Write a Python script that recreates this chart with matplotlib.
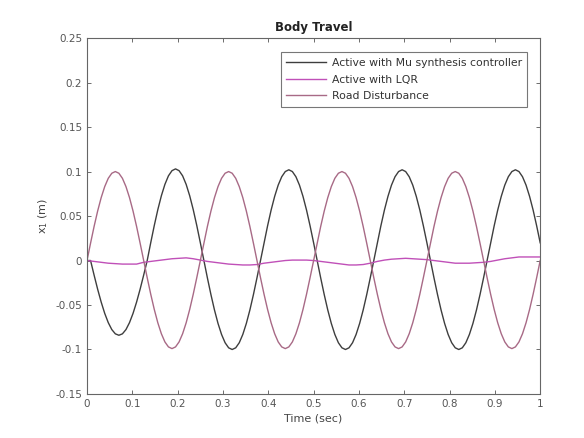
import matplotlib
matplotlib.use("Agg")
import matplotlib.pyplot as plt
import numpy as np

# time samples (sec)
time = np.arange(129) / 128.0
time_lqr = np.arange(65) / 64.0

mu_synthesis = [
    0.0, 0.0,
    -.0164, -.0322, -.0467, -.0594, -.0698, -.0776, -.0824, -.0840,
    -.0824, -.0776, -.0698, -.0594, -.0467, -.0322, -.0164,
    0.0,
    .0201, .0394, .0572, .0728, .0856, .0952, .1010, .1030,
    .1010, .0952, .0856, .0728, .0572, .0394, .0201,
    0.0,
    -.0195, -.0383, -.0556, -.0707, -.0831, -.0924, -.0981, -.1000,
    -.0981, -.0924, -.0831, -.0707, -.0556, -.0383, -.0195,
    0.0,
    .0199, .0390, .0567, .0721, .0848, .0942, .1000, .1020,
    .1000, .0942, .0848, .0721, .0567, .0390, .0199,
    0.0,
    -.0195, -.0383, -.0556, -.0707, -.0831, -.0924, -.0981, -.1000,
    -.0981, -.0924, -.0831, -.0707, -.0556, -.0383, -.0195,
    0.0,
    .0199, .0390, .0567, .0721, .0848, .0942, .1000, .1020,
    .1000, .0942, .0848, .0721, .0567, .0390, .0199,
    0.0,
    -.0195, -.0383, -.0556, -.0707, -.0831, -.0924, -.0981, -.1000,
    -.0981, -.0924, -.0831, -.0707, -.0556, -.0383, -.0195,
    0.0,
    .0199, .0390, .0567, .0721, .0848, .0942, .1000, .1020,
    .1000, .0942, .0848, .0721, .0567, .0390, .0199,
]

lqr = [
    0.000, -0.001, -0.002, -0.003, -0.0035, -0.004, -0.004, -0.004,
    -0.002, -0.001, 0.000, 0.001, 0.002, 0.0025, 0.003, 0.002,
    0.0005, -0.001, -0.002, -0.003, -0.004, -0.0045, -0.005, -0.005,
    -0.0045, -0.003, -0.002, -0.001, 0.000, 0.0005, 0.0005, 0.0005,
    0.000, -0.001, -0.002, -0.003, -0.004, -0.005, -0.005, -0.0045,
    -0.003, -0.001, 0.0005, 0.0015, 0.002, 0.0025, 0.002, 0.0015,
    0.001, 0.000, -0.001, -0.002, -0.003, -0.003, -0.003, -0.0025,
    -0.002, -0.001, 0.0005, 0.002, 0.003, 0.004, 0.004, 0.004,
    0.004,
]

road = [
    0.0, .0195, .0383, .0556, .0707, .0831, .0924, .0981, .1000,
    .0981, .0924, .0831, .0707, .0556, .0383, .0195,
    0.0, -.0193, -.0379, -.0550, -.0700, -.0823, -.0915, -.0971, -.0990,
    -.0971, -.0915, -.0823, -.0700, -.0550, -.0379, -.0193,
    0.0, .0195, .0383, .0556, .0707, .0831, .0924, .0981, .1000,
    .0981, .0924, .0831, .0707, .0556, .0383, .0195,
    0.0, -.0193, -.0379, -.0550, -.0700, -.0823, -.0915, -.0971, -.0990,
    -.0971, -.0915, -.0823, -.0700, -.0550, -.0379, -.0193,
    0.0, .0195, .0383, .0556, .0707, .0831, .0924, .0981, .1000,
    .0981, .0924, .0831, .0707, .0556, .0383, .0195,
    0.0, -.0193, -.0379, -.0550, -.0700, -.0823, -.0915, -.0971, -.0990,
    -.0971, -.0915, -.0823, -.0700, -.0550, -.0379, -.0193,
    0.0, .0195, .0383, .0556, .0707, .0831, .0924, .0981, .1000,
    .0981, .0924, .0831, .0707, .0556, .0383, .0195,
    0.0, -.0193, -.0379, -.0550, -.0700, -.0823, -.0915, -.0971, -.0990,
    -.0971, -.0915, -.0823, -.0700, -.0550, -.0379, -.0193,
    0.0,
]

labels = ["Active with Mu synthesis controller", "Active with LQR", "Road Disturbance"]
xticks = [0, 0.1, 0.2, 0.3, 0.4, 0.5, 0.6, 0.7, 0.8, 0.9, 1]
xticklabels = ["0", "0.1", "0.2", "0.3", "0.4", "0.5", "0.6", "0.7", "0.8", "0.9", "1"]
yticks = [-0.15, -0.1, -0.05, 0, 0.05, 0.1, 0.15, 0.2, 0.25]
yticklabels = ["-0.15", "-0.1", "-0.05", "0", "0.05", "0.1", "0.15", "0.2", "0.25"]

fig = plt.figure(figsize=(5.84, 4.38), dpi=100)
ax = fig.add_axes([0.149, 0.1005, 0.776, 0.8125])

ax.plot(time, mu_synthesis, color="#3e3e3e", lw=1.0, label=labels[0])
ax.plot(time_lqr, lqr, color="#c050b8", lw=1.0, label=labels[1])
ax.plot(time, road, color="#a86a86", lw=1.0, label=labels[2])

ax.set_xlim(0, 1)
ax.set_ylim(-0.15, 0.25)
ax.set_xticks(xticks)
ax.set_xticklabels(xticklabels)
ax.set_yticks(yticks)
ax.set_yticklabels(yticklabels)
ax.tick_params(direction="in", length=3, labelsize=7.5, colors="#555555",
               top=True, right=True, width=0.6)
for s in ax.spines.values():
    s.set_color("#666666")
    s.set_linewidth(0.8)

ax.set_title("Body Travel", fontsize=8.5, fontweight="bold", color="#222222", pad=5)
ax.set_xlabel("Time (sec)", fontsize=8, color="#444444", labelpad=3)
ax.set_ylabel("x$_1$ (m)", fontsize=8, color="#444444", labelpad=4)

leg = ax.legend(loc="upper right", fontsize=7.8, frameon=True, fancybox=False,
                handlelength=3.7, borderpad=0.5, labelspacing=0.62,
                handletextpad=0.5, bbox_to_anchor=(0.983, 0.975))
leg.get_frame().set_edgecolor("#555555")
leg.get_frame().set_linewidth(0.8)
for t in leg.get_texts():
    t.set_color("#333333")

fig.savefig("out.png", dpi=100, facecolor="white")
